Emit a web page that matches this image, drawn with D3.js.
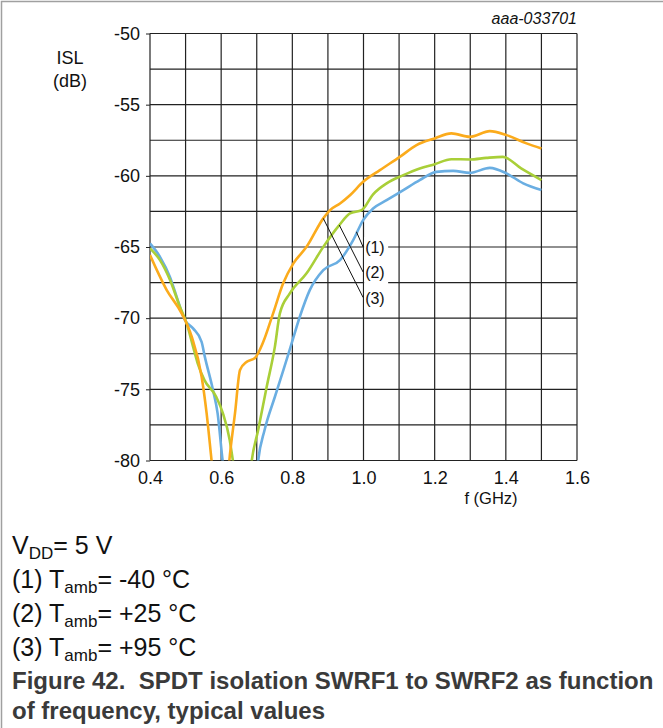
<!DOCTYPE html>
<html>
<head>
<meta charset="utf-8">
<script src="https://cdn.jsdelivr.net/npm/d3@7"></script>
<style>
  body { margin: 0; background: #fff; }
  svg { font-family: "Liberation Sans", Arial, sans-serif; }
</style>
</head>
<body>
<svg id="chart" width="663" height="728"></svg>
<script>
// isolation curves, [f (GHz), ISL (dB)]
const islM40 = [ // (1) -40 °C, blue
  [0.40,-64.75],[0.428,-65.69],[0.456,-67.1],[0.475,-68.5],[0.498,-70.13],[0.521,-70.72],
  [0.545,-71.66],[0.554,-72.7],[0.577,-75.05],[0.59,-76.69],[0.604,-80],[0.64,-85],
  [0.69,-84],[0.704,-80],[0.722,-77.86],[0.751,-75.52],[0.775,-73.64],[0.798,-71.77],
  [0.821,-69.9],[0.849,-68.03],[0.887,-66.62],[0.934,-65.92],[0.971,-64.52],[0.999,-63.11],
  [1.027,-62.3],[1.065,-61.71],[1.112,-61.0],[1.158,-60.3],[1.205,-59.72],[1.252,-59.65],
  [1.299,-59.79],[1.355,-59.44],[1.402,-59.83],[1.449,-60.53],[1.50,-61.0]
];
const islP25 = [ // (2) +25 °C, green
  [0.40,-65.1],[0.428,-65.92],[0.456,-67.3],[0.484,-69.2],[0.503,-70.37],[0.521,-72.0],
  [0.534,-73.17],[0.553,-74.35],[0.586,-75.52],[0.605,-76.69],[0.624,-78.56],[0.633,-80],
  [0.66,-83],[0.677,-82],[0.686,-80],[0.704,-77.86],[0.728,-74.82],[0.751,-72.0],
  [0.765,-69.66],[0.793,-68.26],[0.84,-66.85],[0.887,-64.99],[0.932,-63.46],[0.962,-62.64],
  [0.995,-62.41],[1.027,-61.3],[1.065,-60.53],[1.112,-59.95],[1.158,-59.48],[1.20,-59.18],
  [1.247,-58.83],[1.299,-58.85],[1.345,-58.74],[1.392,-58.67],[1.443,-59.48],[1.50,-60.3]
];
const islP95 = [ // (3) +95 °C, orange
  [0.40,-65.57],[0.447,-68.03],[0.489,-69.66],[0.517,-71.28],[0.545,-74.1],[0.559,-76.66],
  [0.573,-80],[0.59,-84],[0.61,-84],[0.623,-80],[0.639,-76.66],[0.653,-73.64],[0.672,-73.06],
  [0.695,-72.8],[0.717,-71.75],[0.746,-69.66],[0.774,-67.56],[0.803,-66.15],[0.84,-64.99],
  [0.887,-62.99],[0.906,-62.41],[0.934,-61.94],[0.962,-61.36],[0.999,-60.42],[1.046,-59.6],
  [1.102,-58.67],[1.149,-57.84],[1.20,-57.37],[1.247,-57.02],[1.299,-57.26],[1.355,-56.86],
  [1.402,-57.14],[1.458,-57.72],[1.50,-58.08]
];

const xTicks = [0.4, 0.6, 0.8, 1.0, 1.2, 1.4, 1.6];
const yTicks = [-50, -55, -60, -65, -70, -75, -80];
const xGrid = d3.range(4, 17).map(d => d / 10);
const yGrid = d3.range(0, 13).map(d => -50 - d * 2.5);

// label number, leader start on curve, label position
const callouts = [
  {label: "(1)", from: [0.980, -63.93], to: [0.999, -65.0]},
  {label: "(2)", from: [0.932, -63.46], to: [0.999, -66.76]},
  {label: "(3)", from: [0.887, -62.99], to: [0.999, -68.55]}
];

const series = [
  {values: islM40, colour: "#6aaee2"},
  {values: islP25, colour: "#a9cf38"},
  {values: islP95, colour: "#fbab1c"}
];

const notes = [
  {prefix: "(1) T", sub: "amb", rest: "= -40 °C"},
  {prefix: "(2) T", sub: "amb", rest: "= +25 °C"},
  {prefix: "(3) T", sub: "amb", rest: "= +95 °C"}
];

const svg = d3.select("#chart");
const plotLeft = 150, plotTop = 33.5, plotW = 427, plotH = 427;

const x = d3.scaleLinear().domain([0.4, 1.6]).range([plotLeft, plotLeft + plotW]);
const y = d3.scaleLinear().domain([-50, -80]).range([plotTop, plotTop + plotH]);

// figure frame (left and top edges only)
svg.append("path")
   .attr("d", "M1.5,728 V1.5 H663")
   .attr("fill", "none")
   .attr("stroke", "#a0a0a0")
   .attr("stroke-width", 1.5);

// grid
const grid = svg.append("g");
grid.selectAll(".vg").data(xGrid).enter().append("line")
    .attr("x1", d => x(d)).attr("x2", d => x(d))
    .attr("y1", plotTop).attr("y2", plotTop + plotH)
    .attr("stroke", "#222").attr("stroke-width", 1.2);
grid.selectAll(".hg").data(yGrid).enter().append("line")
    .attr("x1", plotLeft).attr("x2", plotLeft + plotW)
    .attr("y1", d => y(d)).attr("y2", d => y(d))
    .attr("stroke", "#222").attr("stroke-width", 1.2);

// axes
const yAxis = d3.axisLeft(y).tickValues(yTicks).tickSize(4).tickPadding(6).tickFormat(d => String(d));
svg.append("g")
   .attr("transform", `translate(${plotLeft},0)`)
   .call(yAxis)
   .call(g => g.select(".domain").remove())
   .call(g => g.selectAll("line").attr("stroke", "#222"))
   .call(g => g.selectAll("text").attr("font-size", 18).attr("fill", "#111")
                .attr("font-family", "Liberation Sans, Arial, sans-serif"));

const xAxis = d3.axisBottom(x).tickValues(xTicks).tickSize(0).tickPadding(11)
                .tickFormat(d3.format(".1f"));
svg.append("g")
   .attr("transform", `translate(0,${plotTop + plotH})`)
   .call(xAxis)
   .call(g => g.select(".domain").remove())
   .call(g => g.selectAll("text").attr("font-size", 18).attr("fill", "#111")
                .attr("font-family", "Liberation Sans, Arial, sans-serif"));

// axis titles
svg.append("text").attr("x", 70).attr("y", 64).attr("text-anchor", "middle")
   .attr("font-size", 18).attr("fill", "#111").text("ISL");
svg.append("text").attr("x", 70).attr("y", 87).attr("text-anchor", "middle")
   .attr("font-size", 18).attr("fill", "#111").text("(dB)");
svg.append("text").attr("x", 491).attr("y", 504).attr("text-anchor", "middle")
   .attr("font-size", 16.5).attr("fill", "#111").text("f (GHz)");
svg.append("text").attr("x", 577).attr("y", 24).attr("text-anchor", "end")
   .attr("font-size", 16).attr("font-style", "italic").attr("fill", "#111").text("aaa-033701");

// curves, clipped to the plot
svg.append("clipPath").attr("id", "plotclip")
   .append("rect").attr("x", plotLeft).attr("y", plotTop).attr("width", plotW).attr("height", plotH);

const line = d3.line().x(d => x(d[0])).y(d => y(d[1])).curve(d3.curveMonotoneX);

svg.append("g")
   .attr("clip-path", "url(#plotclip)")
   .selectAll("path")
   .data(series)
   .enter()
   .append("path")
   .attr("fill", "none")
   .attr("stroke", d => d.colour)
   .attr("stroke-width", 2.6)
   .attr("stroke-linejoin", "round")
   .attr("d", d => line(d.values));

// callout labels
svg.append("rect")
   .attr("x", x(0.999) + 1).attr("y", y(-64.3))
   .attr("width", 24).attr("height", y(-69.4) - y(-64.3))
   .attr("fill", "#fff");

const co = svg.append("g");
co.selectAll("line").data(callouts).enter().append("line")
  .attr("x1", d => x(d.from[0])).attr("y1", d => y(d.from[1]))
  .attr("x2", d => x(d.to[0])).attr("y2", d => y(d.to[1]))
  .attr("stroke", "#111").attr("stroke-width", 1);
co.selectAll("text").data(callouts).enter().append("text")
  .attr("x", d => x(d.to[0]) + 2).attr("y", d => y(d.to[1]) + 6)
  .attr("font-size", 16).attr("fill", "#111")
  .text(d => d.label);

// conditions below the chart
const vdd = svg.append("text").attr("x", 12).attr("y", 554).attr("font-size", 25).attr("fill", "#111");
vdd.append("tspan").text("V");
vdd.append("tspan").attr("font-size", 17).attr("dy", 5).text("DD");
vdd.append("tspan").attr("dy", -5).text("= 5 V");

notes.forEach((n, i) => {
  const t = svg.append("text").attr("x", 12).attr("y", 588 + i * 34)
               .attr("font-size", 25).attr("fill", "#111");
  t.append("tspan").text(n.prefix);
  t.append("tspan").attr("font-size", 17).attr("dy", 5).text(n.sub);
  t.append("tspan").attr("dy", -5).text(n.rest);
});

// caption
const cap = svg.append("text").attr("font-size", 24).attr("font-weight", "bold").attr("fill", "#3a3a3a");
cap.append("tspan").attr("x", 12).attr("y", 689)
   .text("Figure 42.\u00a0 SPDT isolation SWRF1 to SWRF2 as function");
cap.append("tspan").attr("x", 12).attr("y", 719).text("of frequency, typical values");
</script>
</body>
</html>
